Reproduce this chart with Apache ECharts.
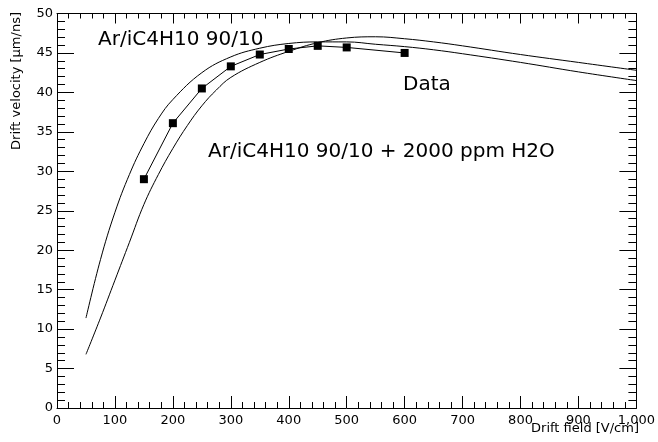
<!DOCTYPE html>
<html>
<head>
<meta charset="utf-8">
<script src="https://cdn.jsdelivr.net/npm/echarts@6/dist/echarts.min.js"></script>
<style>html,body{margin:0;padding:0;background:#fff}#c{width:658px;height:442px}</style>
</head>
<body>
<div id="c"></div>
<script>
// Measured data points (Drift field V/cm, drift velocity um/ns)
var dataField = [150, 200, 250, 300, 350, 400, 450, 500, 600];
var dataVel   = [29.0, 36.1, 40.5, 43.3, 44.8, 45.5, 45.9, 45.7, 45.0];

// Simulation: Ar/iC4H10 90/10
var pureField = [50, 75, 100, 125, 150, 175, 200, 250, 300, 350, 400, 450, 500, 550, 600, 650, 700, 800, 900, 1000];
var pureVel   = [11.4, 18.8, 24.8, 29.6, 33.5, 36.7, 39.1, 42.5, 44.5, 45.6, 46.2, 46.4, 46.4, 46.1, 45.8, 45.4, 44.9, 43.8, 42.6, 41.5];

// Simulation: Ar/iC4H10 90/10 + 2000 ppm H2O
var waterField = [50, 75, 100, 125, 150, 175, 200, 225, 250, 275, 300, 350, 400, 450, 500, 550, 600, 650, 700, 800, 900, 1000];
var waterVel   = [6.8, 11.4, 16.2, 21.0, 25.8, 29.6, 32.9, 35.8, 38.3, 40.3, 41.9, 43.8, 45.2, 46.3, 46.9, 47.05, 46.8, 46.4, 45.9, 44.8, 43.8, 42.8];

var xTitle = 'Drift field [V/cm]';
var yTitle = 'Drift velocity [\u00b5m/ns]';
var labelPure = 'Ar/iC4H10 90/10';
var labelWater = 'Ar/iC4H10 90/10 + 2000 ppm H2O';
var labelData = 'Data';

function pairs(xs, ys) { return xs.map(function (x, i) { return [x, ys[i]]; }); }

var FONT = 'DejaVu Sans';
var chart = echarts.init(document.getElementById('c'), null, {renderer: 'canvas'});
var axisBase = {
  type: 'value',
  axisLine: {show: true, onZero: false, lineStyle: {color: '#000', width: 1}},
  splitLine: {show: false},
  minorSplitLine: {show: false}
};
chart.setOption({
  backgroundColor: '#fff',
  animation: false,
  grid: {left: 57, right: 19, top: 13.5, bottom: 34, containLabel: false},
  xAxis: [
    Object.assign({}, axisBase, {
      position: 'bottom', min: 0, max: 1000, interval: 100,
      axisTick: {show: true, inside: true, length: 12, lineStyle: {color: '#000'}},
      minorTick: {show: true, splitNumber: 5, length: 6, lineStyle: {color: '#000'}},
      axisLabel: {show: true, color: '#000', fontFamily: FONT, fontSize: 13, margin: 6}
    }),
    Object.assign({}, axisBase, {
      position: 'top', min: 0, max: 1000, interval: 100,
      axisTick: {show: true, inside: true, length: 10, lineStyle: {color: '#000'}},
      minorTick: {show: true, splitNumber: 5, length: 5, lineStyle: {color: '#000'}},
      axisLabel: {show: false}
    })
  ],
  yAxis: [
    Object.assign({}, axisBase, {
      position: 'left', min: 0, max: 50, interval: 5,
      axisTick: {show: true, inside: true, length: 17, lineStyle: {color: '#000'}},
      minorTick: {show: true, splitNumber: 5, length: 8, lineStyle: {color: '#000'}},
      axisLabel: {show: true, color: '#000', fontFamily: FONT, fontSize: 13, margin: 4}
    }),
    Object.assign({}, axisBase, {
      position: 'right', min: 0, max: 50, interval: 5,
      axisTick: {show: true, inside: true, length: 17, lineStyle: {color: '#000'}},
      minorTick: {show: true, splitNumber: 5, length: 8, lineStyle: {color: '#000'}},
      axisLabel: {show: false}
    })
  ],
  series: [
    {type: 'line', data: pairs(pureField, pureVel), smooth: 0.4, showSymbol: false,
     lineStyle: {color: '#000', width: 1}, z: 3},
    {type: 'line', data: pairs(waterField, waterVel), smooth: 0.4, showSymbol: false,
     lineStyle: {color: '#000', width: 1}, z: 3},
    {type: 'line', data: pairs(dataField, dataVel), smooth: false, symbol: 'rect', symbolSize: 8,
     showSymbol: true, itemStyle: {color: '#000'}, lineStyle: {color: '#000', width: 1}, z: 4}
  ],
  graphic: [
    {type: 'text', left: 98, top: 30, style: {text: labelPure, font: '20px "' + FONT + '"', fill: '#000'}},
    {type: 'text', left: 403, top: 75, style: {text: labelData, font: '20px "' + FONT + '"', fill: '#000'}},
    {type: 'text', left: 208, top: 142, style: {text: labelWater, font: '20px "' + FONT + '"', fill: '#000'}},
    {type: 'text', right: 19, top: 422, style: {text: xTitle, font: '13px "' + FONT + '"', fill: '#000'}},
    {type: 'text', x: 10, y: 12, rotation: Math.PI / 2,
     style: {text: yTitle, font: '13px "' + FONT + '"', fill: '#000', align: 'right', verticalAlign: 'top'}}
  ]
});
</script>
</body>
</html>
